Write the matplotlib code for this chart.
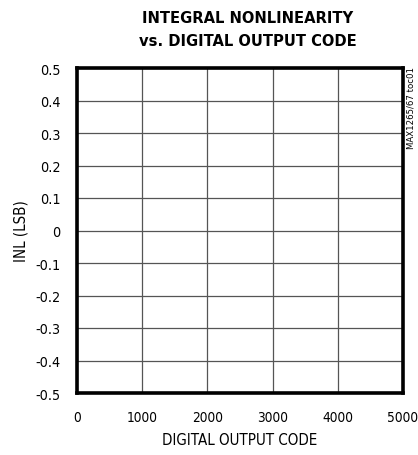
import matplotlib
matplotlib.use("Agg")
import matplotlib.pyplot as plt

x_ticks = [0, 1000, 2000, 3000, 4000, 5000]
y_ticks = [0.5, 0.4, 0.3, 0.2, 0.1, 0, -0.1, -0.2, -0.3, -0.4, -0.5]
y_labels = ["0.5", "0.4", "0.3", "0.2", "0.1", "0", "-0.1", "-0.2", "-0.3", "-0.4", "-0.5"]
title = "INTEGRAL NONLINEARITY\nvs. DIGITAL OUTPUT CODE"
xlabel = "DIGITAL OUTPUT CODE"
ylabel = "INL (LSB)"
tag = "MAX1265/67 toc01"

fam = "DejaVu Sans"
cond = "condensed"

fig = plt.figure(figsize=(4.18, 4.56), dpi=100)
W, H = 418, 456
l, r, t, b = 77, 403, 69, 394
ax = fig.add_axes([l / W, 1 - b / H, (r - l) / W, (b - t) / H])
ax.set_xlim(0, 5000)
ax.set_ylim(-0.5, 0.5)
ax.set_xticks(x_ticks)
ax.set_xticklabels([str(v) for v in x_ticks], fontsize=9.8, family=fam, stretch=cond)
ax.set_yticks(y_ticks)
ax.set_yticklabels(y_labels, fontsize=10.3, family=fam, stretch=cond)
ax.tick_params(length=0, pad=12)
ax.grid(True, color="#555555", linewidth=0.9)
for s in ax.spines.values():
    s.set_linewidth(2.6)
    s.set_color("black")
ax.set_xlabel(xlabel, fontsize=10.8, family=fam, stretch=cond, labelpad=6)
ax.set_ylabel(ylabel, fontsize=10.8, family=fam, stretch=cond, labelpad=5)
fig.text(248 / W, 1 - 30 / H, title, ha="center", va="center", fontsize=11.8,
         fontweight="bold", family=fam, stretch=cond, linespacing=1.6)
fig.text(411 / W, 1 - 108 / H, tag, rotation=90, ha="center", va="center",
         fontsize=6.8, family=fam, stretch=cond)
fig.savefig("out.png", dpi=100)
